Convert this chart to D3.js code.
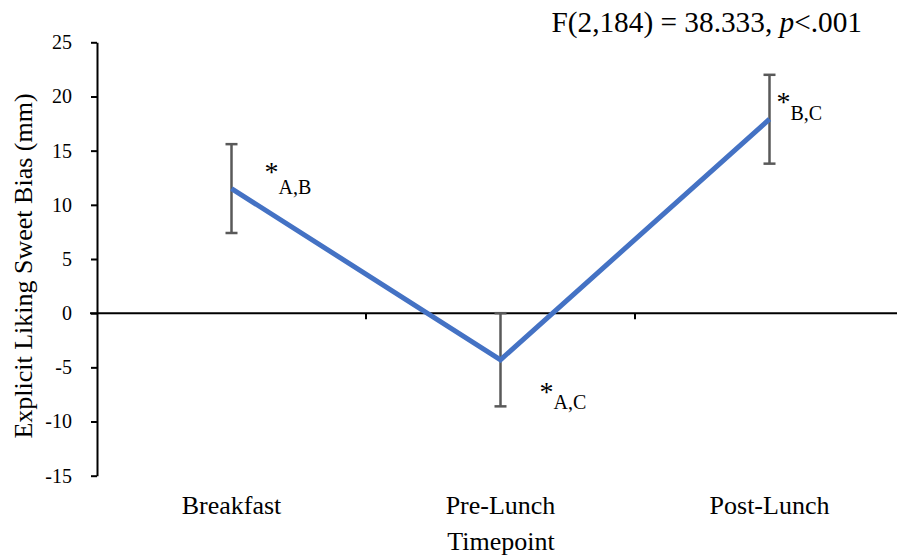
<!DOCTYPE html>
<html>
<head>
<meta charset="utf-8">
<script src="https://cdn.jsdelivr.net/npm/d3@7"></script>
<style>
  html, body { margin: 0; padding: 0; background: #fff; }
  svg, svg text { font-family: "Liberation Serif", "Times New Roman", serif !important; }
  svg { display: block; }
</style>
</head>
<body>
<svg id="chart" width="897" height="557"></svg>
<script>
// Sweet bias by timepoint: mean with error bars
const categories = ["Breakfast", "Pre-Lunch", "Post-Lunch"];
const means = [11.5, -4.3, 17.9];
const errors = [4.1, 4.3, 4.1];
const annotations = ["A,B", "A,C", "B,C"];
const yTicks = [-15, -10, -5, 0, 5, 10, 15, 20, 25];
const statText = "F(2,184) = 38.333, ";
const statP = "p";
const statTail = "<.001";

const svg = d3.select("#chart");
const W = 897, H = 557;
svg.append("rect").attr("width", W).attr("height", H).attr("fill", "#fff");

const y = d3.scaleLinear().domain([-15, 25]).range([475.7, 42.3]);
const x = d3.scaleBand().domain(categories).range([97, 904]).padding(0);
const cx = c => x(c) + x.bandwidth() / 2;

// Y axis
const yAxis = svg.append("g")
  .attr("transform", "translate(97,0)")
  .call(d3.axisLeft(y).tickValues(yTicks).tickFormat(d => String(d))
    .tickSize(6).tickSizeOuter(0).tickPadding(19));
yAxis.attr("font-family", null).attr("font-size", null);
yAxis.select(".domain").attr("stroke", "#000").attr("stroke-width", 2);
yAxis.selectAll(".tick line").attr("stroke", "#000").attr("stroke-width", 2);
yAxis.selectAll(".tick text")
  .style("font-family", "'Liberation Serif', 'Times New Roman', serif")
  .style("font-size", "20px").attr("fill", "#000");

// Horizontal axis through zero, ticks between categories
const y0 = y(0);
svg.append("line")
  .attr("x1", 90).attr("x2", W + 10)
  .attr("y1", y0).attr("y2", y0)
  .attr("stroke", "#000").attr("stroke-width", 2);
svg.selectAll(".xtick")
  .data(categories.slice(1))
  .enter().append("line")
  .attr("class", "xtick")
  .attr("x1", d => x(d)).attr("x2", d => x(d))
  .attr("y1", y0).attr("y2", y0 + 6)
  .attr("stroke", "#000").attr("stroke-width", 2);

// Category labels
svg.selectAll(".cat")
  .data(categories)
  .enter().append("text")
  .attr("class", "cat")
  .attr("x", d => cx(d))
  .attr("y", 514)
  .attr("text-anchor", "middle")
  .attr("font-size", 26)
  .text(d => d);

// Axis titles
svg.append("text")
  .attr("x", 501).attr("y", 550)
  .attr("text-anchor", "middle")
  .attr("font-size", 26)
  .text("Timepoint");
svg.append("text")
  .attr("transform", "translate(32,266) rotate(-90)")
  .attr("text-anchor", "middle")
  .attr("font-size", 26)
  .text("Explicit Liking Sweet Bias (mm)");

// Statistic
const st = svg.append("text")
  .attr("x", 862).attr("y", 32)
  .attr("text-anchor", "end")
  .attr("font-size", 29.3);
st.append("tspan").text(statText);
st.append("tspan").attr("font-style", "italic").text(statP);
st.append("tspan").text(statTail);

// Error bars
const pts = categories.map((c, i) => ({ c, m: means[i], e: errors[i], a: annotations[i] }));
const eb = svg.append("g").attr("stroke", "#595959").attr("stroke-width", 2.5);
pts.forEach(p => {
  const px = cx(p.c);
  eb.append("line").attr("x1", px).attr("x2", px)
    .attr("y1", y(p.m + p.e)).attr("y2", y(p.m - p.e));
  [p.m + p.e, p.m - p.e].forEach(v => {
    eb.append("line").attr("x1", px - 6).attr("x2", px + 6)
      .attr("y1", y(v)).attr("y2", y(v));
  });
});

// Mean line
svg.append("path")
  .datum(pts)
  .attr("fill", "none")
  .attr("stroke", "#4472C4")
  .attr("stroke-width", 5)
  .attr("stroke-linejoin", "miter")
  .attr("d", d3.line().x(p => cx(p.c)).y(p => y(p.m)));

// Significance annotations (asterisk with subscript groups)
const offsets = [[33, -8, 13.5], [39, 41.5, 8], [7, -8, 9]];
pts.forEach((p, i) => {
  const t = svg.append("text")
    .attr("x", cx(p.c) + offsets[i][0])
    .attr("y", y(p.m) + offsets[i][1])
    .attr("font-size", 28);
  t.append("tspan").text("*");
  t.append("tspan").attr("font-size", 20).attr("dy", offsets[i][2]).text(p.a);
});
</script>
</body>
</html>
